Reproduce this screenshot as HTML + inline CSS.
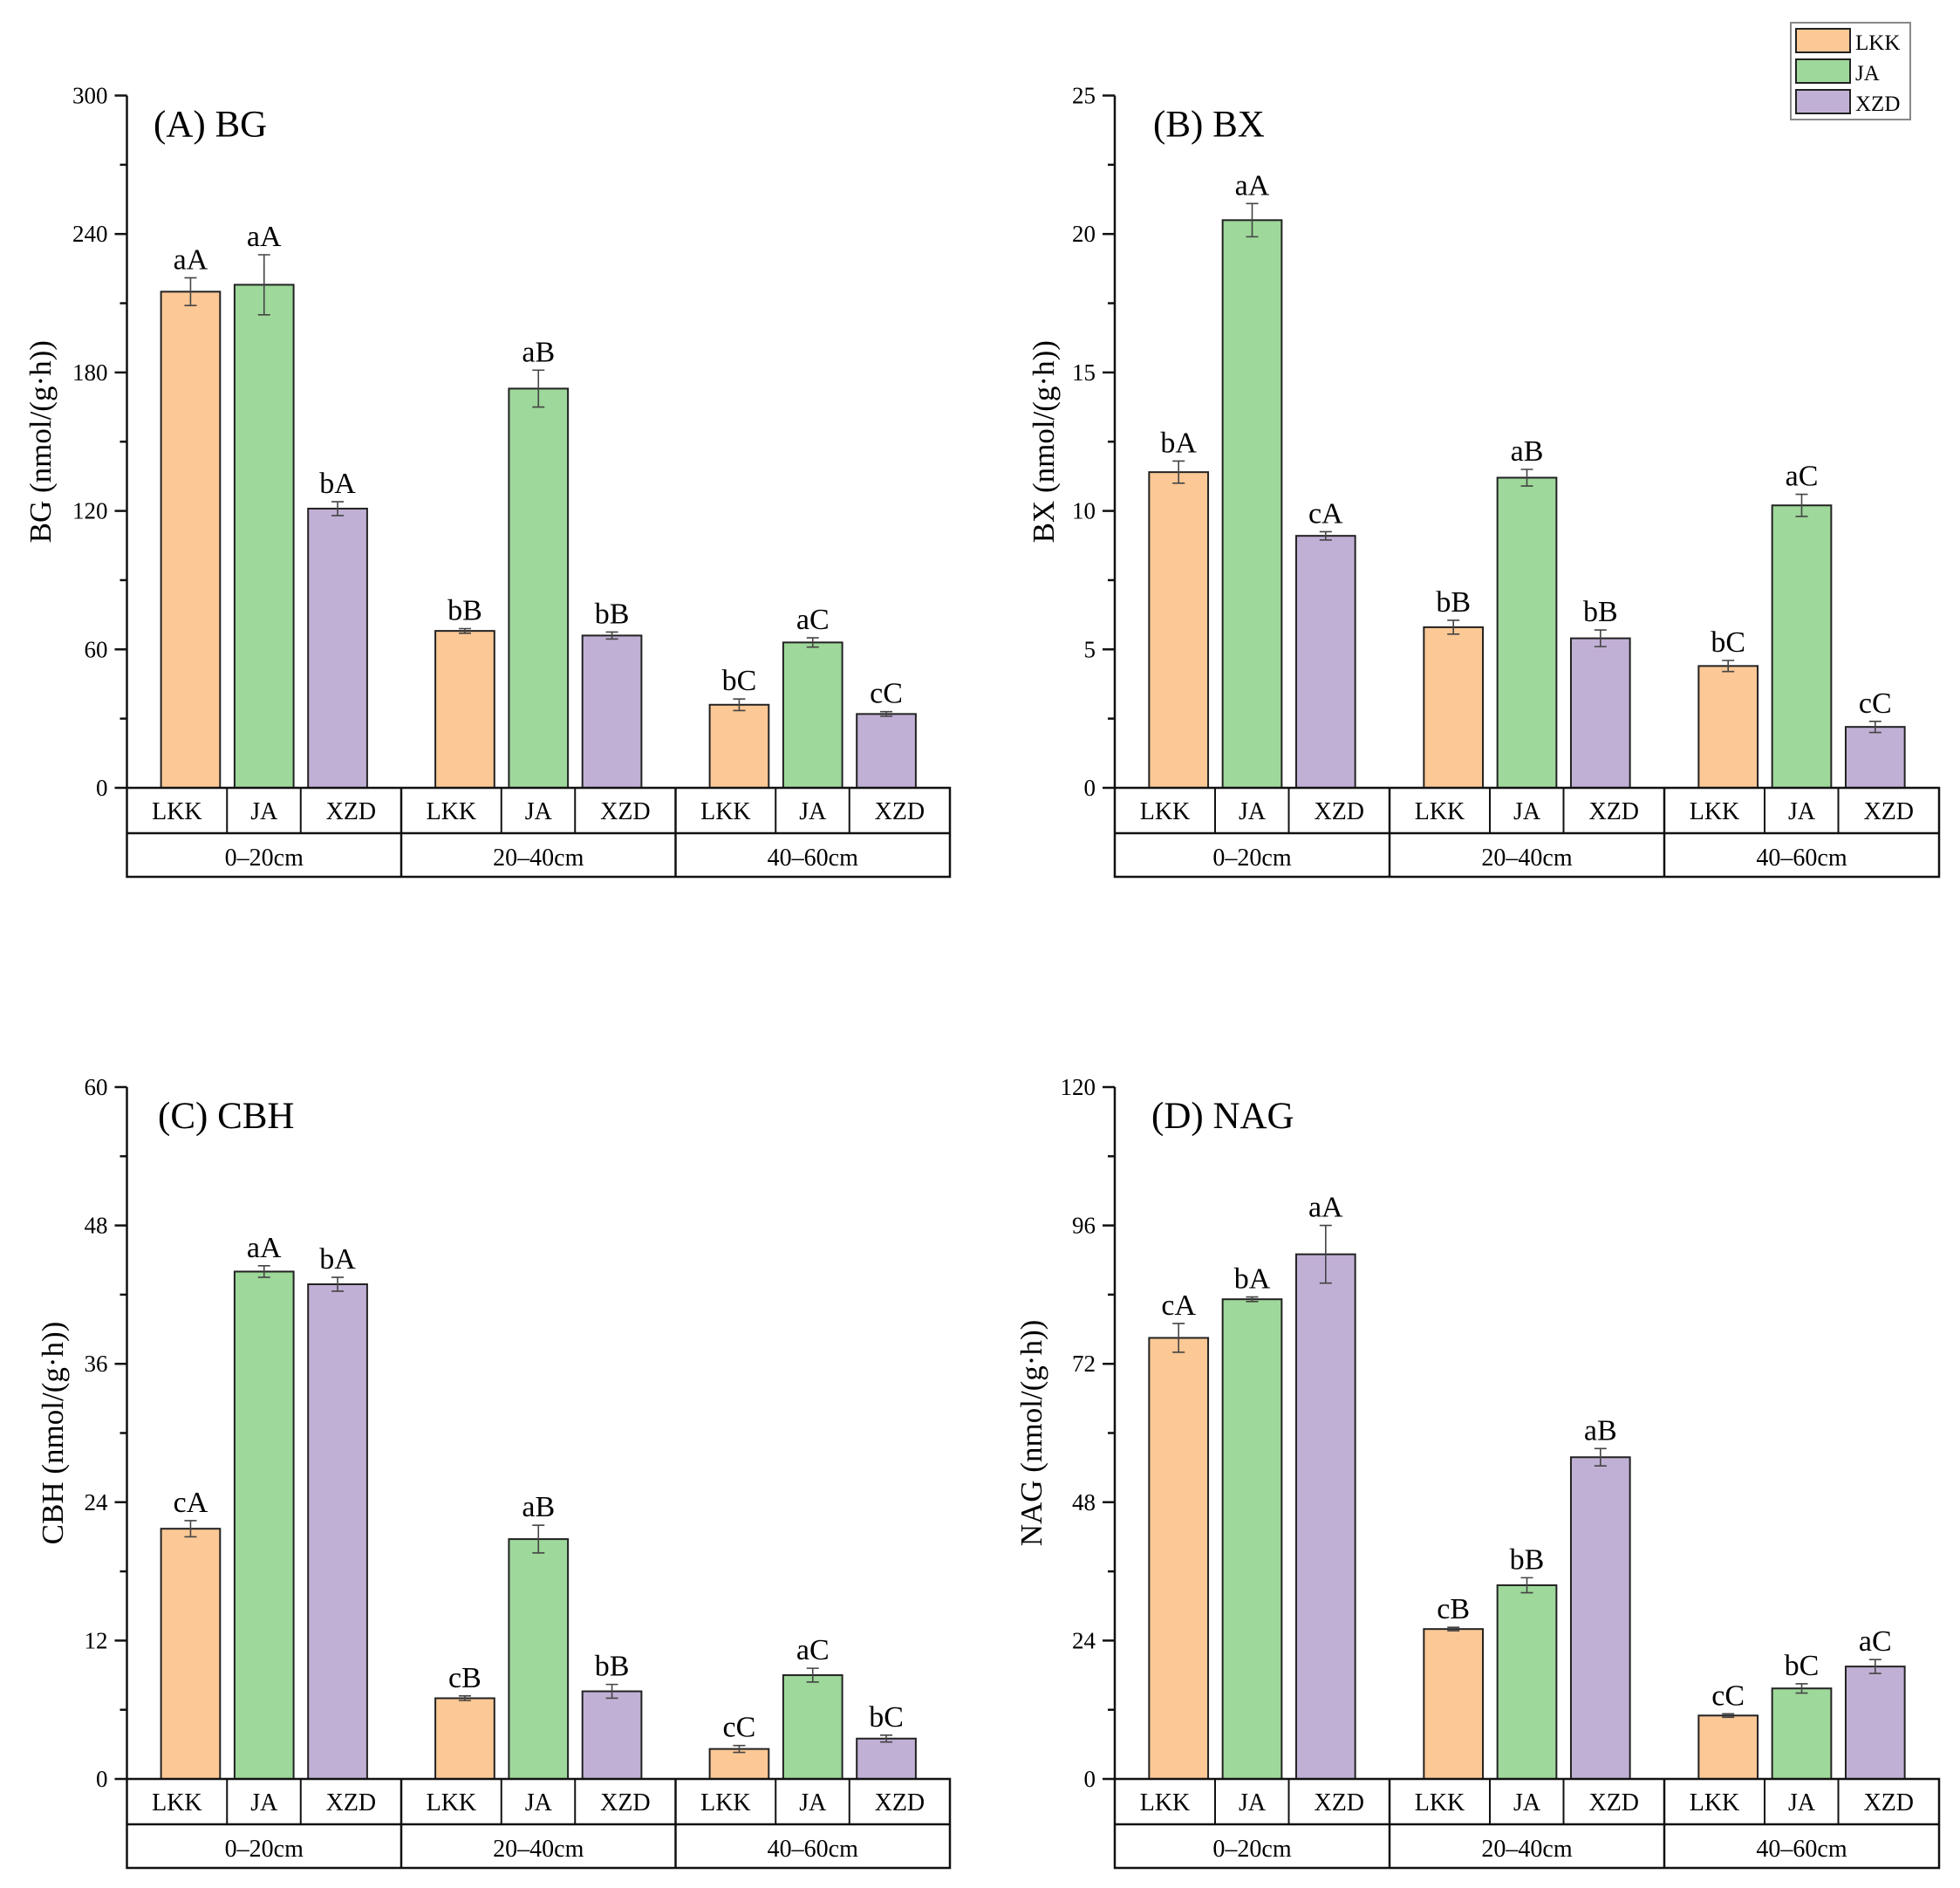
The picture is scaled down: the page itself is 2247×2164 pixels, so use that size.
<!DOCTYPE html>
<html><head><meta charset="utf-8"><style>
html,body{margin:0;padding:0;background:#fff}
svg{display:block}
text{font-family:"Liberation Serif",serif}
</style></head><body>
<svg id="chart" width="2247" height="2164" viewBox="0 0 2247 2164" xmlns="http://www.w3.org/2000/svg" font-family="Liberation Serif, serif">
<g>
<rect x="2053" y="26" width="137" height="111" fill="#fff" stroke="#888" stroke-width="2"/>
<rect x="2059" y="33" width="62" height="27" fill="#FBC896" stroke="#222" stroke-width="2"/>
<text x="2127" y="57" font-size="25" font-family="Liberation Serif, serif">LKK</text>
<rect x="2059" y="68" width="62" height="27" fill="#9ED89A" stroke="#222" stroke-width="2"/>
<text x="2127" y="92" font-size="25" font-family="Liberation Serif, serif">JA</text>
<rect x="2059" y="103" width="62" height="27" fill="#C1B0D5" stroke="#222" stroke-width="2"/>
<text x="2127" y="127" font-size="25" font-family="Liberation Serif, serif">XZD</text>
</g>
</svg>
<script>
const groups = ["0–20cm","20–40cm","40–60cm"];
const series = ["LKK","JA","XZD"];
const colors = ["#FBC896","#9ED89A","#C1B0D5"];

const bgValues = [[215,218,121],[68,173,66],[36,63,32]];
const bgErrors = [[6,13,3],[1,8,1.5],[2.5,2,1]];
const bgLetters = [["aA","aA","bA"],["bB","aB","bB"],["bC","aC","cC"]];
const bgTicks = [0,60,120,180,240,300];

const bxValues = [[11.4,20.5,9.1],[5.8,11.2,5.4],[4.4,10.2,2.2]];
const bxErrors = [[0.4,0.6,0.15],[0.25,0.3,0.3],[0.2,0.4,0.2]];
const bxLetters = [["bA","aA","cA"],["bB","aB","bB"],["bC","aC","cC"]];
const bxTicks = [0,5,10,15,20,25];

const cbhValues = [[21.7,44,42.9],[7,20.8,7.6],[2.6,9,3.5]];
const cbhErrors = [[0.7,0.5,0.6],[0.2,1.2,0.6],[0.3,0.6,0.3]];
const cbhLetters = [["cA","aA","bA"],["cB","aB","bB"],["cC","aC","bC"]];
const cbhTicks = [0,12,24,36,48,60];

const nagValues = [[76.5,83.2,91],[26,33.6,55.8],[11,15.7,19.5]];
const nagErrors = [[2.5,0.4,5],[0.3,1.3,1.5],[0.3,0.8,1.2]];
const nagLetters = [["cA","bA","aA"],["cB","bB","aB"],["cC","bC","aC"]];
const nagTicks = [0,24,48,72,96,120];

const NS="http://www.w3.org/2000/svg";
const FONT="Liberation Serif, serif";
const svg=document.getElementById('chart');
function mk(tag,attrs,parent,text){const e=document.createElementNS(NS,tag);for(const k in attrs)e.setAttribute(k,attrs[k]);if(tag==='text')e.setAttribute('font-family',FONT);if(text!==undefined)e.textContent=text;parent.appendChild(e);return e;}

function panel(key,title,ytitle,values,errors,letters,ticks,x0,x1,yTop,y0,titleX,ytX){
  const g=mk('g',{},svg);
  
  
  const vmax=ticks[ticks.length-1];
  const yS=v=>y0-(v/vmax)*(y0-yTop);
  const gw=(x1-x0)/3;
  const gc=i=>x0+gw*(i+0.5);
  const off=84.3, bw=67.7;
  values.forEach((row,gi)=>row.forEach((v,si)=>{
    const cx=gc(gi)+(si-1)*off;
    const r=mk('rect',{x:cx-bw/2,y:yS(v),width:bw,height:y0-yS(v),fill:colors[si],stroke:'#222','stroke-width':2},g);
    
    
    const e=errors[gi][si];
    const eb=mk('path',{d:`M${cx},${yS(v+e)}V${yS(v-e)}M${cx-7},${yS(v+e)}H${cx+7}M${cx-7},${yS(v-e)}H${cx+7}`,stroke:'#444','stroke-width':1.6,fill:'none'},g);
    
    
    const t=mk('text',{x:cx,y:yS(v+e)-10,'font-size':34,'text-anchor':'middle'},g,letters[gi][si]);
    
    
  }));
  mk('line',{x1:x0,y1:yTop,x2:x0,y2:y0,stroke:'#111','stroke-width':2.5},g);
  const step=(ticks[1]-ticks[0]);
  for(let i=0;i<ticks.length;i++){
    const y=yS(ticks[i]);
    mk('line',{x1:x0-14,y1:y,x2:x0,y2:y,stroke:'#111','stroke-width':2.5},g);
    const t=mk('text',{x:x0-22,y:y+9,'font-size':27,'text-anchor':'end'},g,ticks[i]);
    
    
    if(i<ticks.length-1){const ym=yS(ticks[i]+step/2);mk('line',{x1:x0-8,y1:ym,x2:x0,y2:ym,stroke:'#111','stroke-width':2.5},g);}
  }
  const r1=y0+52,r2=y0+102;
  mk('rect',{x:x0,y:y0,width:x1-x0,height:r2-y0,fill:'none',stroke:'#111','stroke-width':2.5},g);
  mk('line',{x1:x0,y1:r1,x2:x1,y2:r1,stroke:'#111','stroke-width':2.5},g);
  groups.forEach((gn,gi)=>{
    if(gi>0)mk('line',{x1:x0+gw*gi,y1:y0,x2:x0+gw*gi,y2:r2,stroke:'#111','stroke-width':2.5},g);
    const c=gc(gi);
    mk('line',{x1:c-42.5,y1:y0,x2:c-42.5,y2:r1,stroke:'#111','stroke-width':2},g);
    mk('line',{x1:c+42,y1:y0,x2:c+42,y2:r1,stroke:'#111','stroke-width':2},g);
    series.forEach((s,si)=>{
      const cx=[ (x0+gw*gi+c-42.5)/2, c, (c+42+x0+gw*(gi+1))/2 ][si];
      const t=mk('text',{x:cx,y:y0+36,'font-size':28,'text-anchor':'middle'},g,s);
      
      
    });
    const t=mk('text',{x:c,y:r1+37,'font-size':28,'text-anchor':'middle'},g,gn);
    
    
  });
  const tt=mk('text',{x:titleX,y:yTop+47,'font-size':43},g,title);
  
  
  const yc=(yTop+y0)/2;
  const yt=mk('text',{x:ytX,y:yc,'font-size':35,'text-anchor':'middle',transform:`rotate(-90 ${ytX} ${yc})`},g,ytitle);
  
  
}
panel('bg','(A) BG','BG (nmol/(g·h))',bgValues,bgErrors,bgLetters,bgTicks,145.5,1089,109.5,903,176,58);
panel('bx','(B) BX','BX (nmol/(g·h))',bxValues,bxErrors,bxLetters,bxTicks,1278,2223,109.5,903,1322,1208);
panel('cbh','(C) CBH','CBH (nmol/(g·h))',cbhValues,cbhErrors,cbhLetters,cbhTicks,145.5,1089,1246,2039,181,72);
panel('nag','(D) NAG','NAG (nmol/(g·h))',nagValues,nagErrors,nagLetters,nagTicks,1278,2223,1246,2039,1320,1194);
</script>
</body></html>
